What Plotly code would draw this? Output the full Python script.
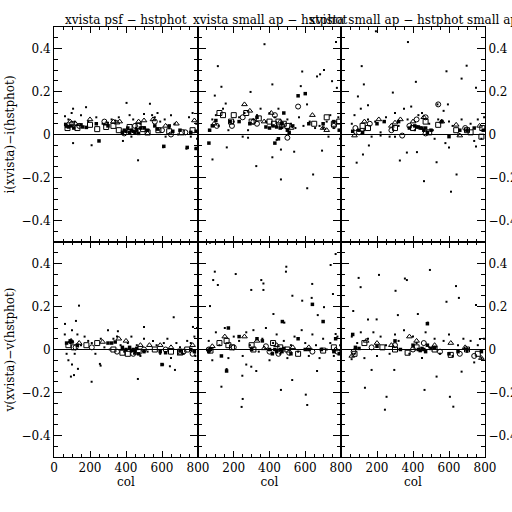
import plotly.graph_objects as go

# ---------------- data (col, magnitude difference) ----------------
PANEL_TITLES = ["xvista psf \u2212 hstphot", "xvista small ap \u2212 hstphot",
                "xvista small ap \u2212 hstphot small ap"]
ROW_YLABELS = ["i(xvista)\u2212i(hstphot)", "v(xvista)\u2212v(hstphot)"]
X_TICKS = [0, 200, 400, 600, 800]
Y_TICKS = [-0.4, -0.2, 0, 0.2, 0.4]

# panel 1: i, psf - hstphot
p1_dot = [(61,0.085),(80,0.07),(98,0.10),(106,0.12),(115,0.06),(130,0.045),(150,0.09),(178,0.127),
          (190,0.06),(209,-0.05),(250,-0.03),(235,0.08),(270,0.05),(300,0.055),(320,0.07),(340,0.065),
          (360,0.08),(383,-0.03),(403,0.147),(420,0.09),(440,0.07),(455,0.03),(467,-0.12),(480,0.05),
          (500,0.095),(533,0.143),(545,0.09),(560,0.08),(575,0.1),(590,0.06),(606,-0.059),(615,0.07),
          (640,0.03),(650,0.09),(670,0.05),(700,0.02),(736,-0.066),(750,0.08),(770,0.1),(786,-0.066),
          (790,0.05),(106,-0.04),(430,-0.01),(620,-0.01),(690,0.0),(760,-0.01),(795,-0.02)]
p1_fsq = [(65,0.047),(70,0.039),(80,0.035),(95,0.04),(110,0.03),(150,0.045),(160,0.035),(180,0.033),
          (250,-0.03),(235,0.05),(300,0.04),(380,0.01),(390,0.02),(400,0.015),(410,0.03),(420,0.01),
          (430,0.02),(440,0.015),(450,0.01),(460,0.02),(470,0.005),(480,0.03),(500,0.03),(520,0.02),
          (560,0.04),(575,0.025),(640,0.04),(660,0.015),(700,0.02),(760,0.01),(790,0.015),(740,-0.06),
          (790,-0.065),(610,-0.055)]
p1_sq = [(75,0.03),(130,0.03),(200,0.045),(240,0.025),(290,0.035),(330,0.04),(360,0.02),(420,0.035),
         (470,0.04),(495,0.025),(520,0.01),(580,0.02),(640,0.015),(710,0.01),(770,0.02)]
p1_tri = [(90,0.06),(120,0.05),(200,0.07),(290,0.05),(330,0.06),(350,0.055),(365,0.06),(470,0.06),
          (500,0.065),(550,0.07),(620,0.04),(680,0.05),(780,0.065),(520,0.005)]
p1_circ = [(100,0.05),(140,0.04),(280,0.06),(390,0.005),(450,0.04),(560,0.06),(600,0.02),(650,0.0),
           (730,0.01)]

# panel 2: i, small ap - hstphot
p2_dot = [(111,0.318),(131,0.222),(94,0.181),(294,0.198),(416,0.233),(575,0.225),(600,0.19),(666,0.27),
          (705,0.30),(750,0.248),(777,0.217),(583,0.293),(155,0.144),(326,-0.147),(416,-0.106),
          (464,-0.209),(611,-0.25),(644,-0.186),(81,-0.116),(538,-0.08),(464,-0.07),(694,-0.075),
          (161,-0.06),(372,0.42),(772,0.43),(683,0.28),
          (80,0.07),(100,0.09),(115,0.04),(140,0.12),(170,0.02),(200,0.06),(230,0.08),(260,0.1),
          (280,0.02),(310,0.07),(330,0.09),(350,0.12),(380,0.06),(400,0.1),(430,0.08),(450,0.12),
          (470,0.03),(500,0.07),(520,0.05),(545,0.03),(565,0.08),(590,0.04),(610,0.14),(625,0.06),
          (655,0.03),(680,0.04),(700,0.03),(720,0.06),(740,0.09),(760,0.03),(785,0.08),(795,-0.02),
          (730,-0.01),(250,-0.01),(280,-0.015),(440,-0.025)]
p2_fsq = [(65,0.02),(80,0.04),(100,0.065),(180,0.06),(230,0.06),(290,0.05),(330,0.08),(380,0.035),
          (400,0.03),(420,0.04),(440,0.035),(460,0.03),(470,0.05),(480,0.1),(500,0.02),(510,0.01),
          (530,0.04),(560,0.18),(600,0.19),(620,0.05),(700,0.05),(760,0.06),(790,0.02),(450,-0.02),
          (430,-0.04),(61,-0.04)]
p2_sq = [(120,0.1),(140,0.09),(185,0.06),(200,0.09),(270,0.1),(300,0.06),(340,0.075),(400,0.06),
         (425,0.05),(450,0.06),(480,0.05),(500,0.04),(650,0.05),(720,0.08),(760,0.05),(790,0.06)]
p2_tri = [(90,0.05),(260,0.14),(290,0.11),(370,0.06),(410,0.1),(460,0.06),(520,0.03),(640,0.09),
          (700,0.03),(720,0.02)]
p2_circ = [(105,0.04),(250,0.08),(310,0.06),(330,0.05),(430,0.09),(470,0.04),(500,-0.015),(560,0.13),
           (760,0.04),(190,0.04)]

# panel 3: i, small ap - hstphot small ap
p3_dot = [(115,0.318),(698,0.32),(670,0.26),(127,0.233),(416,0.245),(586,0.294),(750,0.218),(288,0.195),
          (94,0.177),(150,0.136),(536,0.14),(594,0.14),(87,-0.131),(122,-0.093),(327,-0.121),
          (422,-0.082),(461,-0.217),(531,-0.129),(642,-0.186),(611,-0.266),(366,-0.084),(155,-0.051),
          (750,-0.056),(194,0.48),(372,0.43),
          (60,0.05),(75,0.09),(90,0.02),(110,0.12),(130,0.02),(150,0.07),(170,-0.01),(190,0.06),
          (220,0.01),(250,0.08),(270,-0.01),(300,0.1),(320,0.04),(350,0.12),(370,0.07),(390,0.13),
          (410,0.02),(430,0.09),(450,0.1),(470,0.03),(490,0.05),(510,0.02),(540,0.07),(570,0.11),
          (600,0.06),(620,0.04),(650,0.0),(670,0.07),(700,0.02),(720,0.05),(740,-0.03),(760,0.07),
          (780,-0.02),(795,0.08),(220,-0.005),(300,-0.01),(580,-0.04),(600,-0.06),(520,-0.02)]
p3_fsq = [(100,0.02),(120,0.01),(200,0.05),(240,0.06),(320,0.06),(380,0.03),(410,0.04),(420,0.035),
          (430,0.035),(440,0.03),(450,0.03),(460,0.02),(470,0.03),(480,0.01),(500,0.02),(560,0.06),
          (600,-0.01),(660,0.02),(700,0.02),(740,0.03),(790,0.02),(65,0.015)]
p3_sq = [(120,0.04),(150,0.03),(300,0.03),(400,0.03),(470,0.06),(490,0.01),(540,0.045),(640,0.02),
         (700,0.02),(720,0.01),(785,0.03),(780,-0.01)]
p3_tri = [(75,-0.005),(130,0.06),(210,0.07),(300,0.055),(330,0.07),(400,0.06),(560,0.06),(640,0.045),
          (660,-0.005),(770,0.04),(460,0.08),(280,0.04)]
p3_circ = [(80,0.03),(100,0.01),(160,0.05),(280,0.02),(340,-0.005),(380,0.04),(470,0.08),(420,0.07),
           (540,0.14),(690,0.03),(470,0.005)]

# panel 4: v, psf - hstphot
p4_dot = [(139,0.204),(61,0.119),(122,0.133),(94,-0.126),(111,-0.119),(133,-0.09),(100,-0.07),
          (209,-0.15),(255,-0.067),(259,-0.075),(466,-0.137),(500,0.105),(665,0.15),(606,-0.07),
          (644,-0.078),(672,-0.095),(772,0.105),(300,0.09),(355,0.085),
          (60,0.07),(70,-0.02),(80,-0.05),(90,0.03),(100,0.09),(115,-0.02),(130,0.07),(150,0.02),
          (170,0.06),(190,0.04),(210,0.03),(230,-0.02),(260,0.05),(280,0.01),(310,0.0),(330,0.05),
          (350,0.06),(370,0.02),(390,-0.01),(410,0.03),(430,0.06),(445,-0.02),(460,0.02),(480,-0.03),
          (500,0.05),(520,-0.01),(550,0.04),(570,0.02),(590,-0.02),(610,0.03),(630,0.05),(650,-0.04),
          (680,0.03),(700,0.01),(720,-0.02),(740,0.04),(760,0.03),(780,0.06),(795,0.1),(785,-0.03)]
p4_fsq = [(70,0.03),(90,0.04),(100,0.035),(130,0.02),(300,0.03),(320,0.03),(340,0.035),(380,0.01),
          (400,0.0),(420,0.01),(430,-0.005),(440,0.0),(450,-0.01),(460,0.005),(470,-0.02),(500,-0.01),
          (590,-0.01),(620,-0.015),(700,-0.005),(760,0.0),(780,-0.01),(600,-0.07)]
p4_sq = [(80,0.02),(110,0.01),(180,0.02),(240,0.03),(330,0.0),(380,-0.015),(410,-0.02),(470,-0.01),
         (560,0.0),(650,-0.01),(700,-0.01),(740,0.0)]
p4_tri = [(95,0.04),(140,0.03),(270,0.035),(360,0.05),(400,0.04),(480,0.02),(530,0.02),(590,0.02),
          (650,0.01),(700,-0.02),(770,0.02)]
p4_circ = [(120,0.01),(210,0.01),(350,-0.01),(440,-0.02),(500,0.0),(620,0.0),(720,-0.01),(770,-0.02)]

# panel 5: v, small ap - hstphot
p5_dot = [(67,0.497),(94,0.362),(85,0.323),(111,0.30),(211,0.351),(354,0.323),(366,0.307),(366,0.277),
          (298,0.277),(494,0.385),(492,0.362),(639,0.305),(528,0.25),(583,0.227),(636,0.24),(670,0.16),
          (705,0.197),(770,0.444),(742,0.393),(755,0.258),(422,0.165),(483,0.125),(770,0.072),(67,0.202),
          (160,-0.091),(131,-0.173),(248,-0.122),(250,-0.23),(244,-0.267),(603,-0.21),(611,-0.258),
          (527,-0.142),(666,-0.10),(464,-0.188),(298,-0.08),(326,-0.10),(270,-0.07),
          (60,0.04),(80,-0.05),(100,0.08),(120,0.02),(150,0.1),(170,-0.04),(200,0.06),(230,0.04),
          (250,-0.03),(270,0.08),(290,0.02),(310,0.09),(340,-0.01),(360,0.05),(380,0.1),(400,-0.05),
          (420,0.03),(440,0.07),(460,-0.02),(480,0.04),(500,-0.04),(520,0.02),(540,0.06),(560,-0.01),
          (580,0.09),(600,0.03),(620,-0.03),(640,0.07),(660,0.02),(680,-0.04),(700,0.05),(720,0.0),
          (740,0.03),(760,-0.03),(780,0.06),(795,0.02)]
p5_fsq = [(60,-0.01),(70,0.0),(131,-0.03),(170,0.1),(230,0.06),(300,0.0),(330,0.05),(360,0.04),
          (400,0.0),(416,-0.02),(430,0.0),(440,-0.01),(460,0.0),(470,-0.01),(480,0.005),(520,-0.02),
          (560,0.05),(600,0.0),(620,0.0),(690,0.0),(760,-0.01),(770,0.05),(790,-0.02),(160,-0.1),
          (472,0.13),(640,0.21),(700,0.13)]
p5_sq = [(70,-0.005),(120,0.03),(160,0.04),(170,0.02),(190,0.01),(300,0.02),(310,0.0),(420,0.03),
         (460,0.01),(500,0.0),(560,-0.02),(700,-0.005),(760,0.01)]
p5_tri = [(80,0.015),(150,0.06),(260,0.06),(330,0.04),(370,0.005),(440,0.02),(530,0.01),(620,0.01),
          (770,0.0)]
p5_circ = [(60,0.0),(200,0.01),(380,0.015),(400,-0.01),(450,-0.02),(510,-0.015),(640,-0.01),(780,-0.01)]

# panel 6: v, small ap - hstphot small ap
p6_dot = [(494,0.37),(366,0.323),(355,0.33),(639,0.295),(98,0.333),(109,0.29),(211,0.347),(303,0.273),
          (586,0.222),(655,0.24),(750,0.207),(427,0.165),(316,0.16),(482,0.125),(150,0.14),(198,0.14),
          (68,0.179),(772,0.049),(170,-0.095),(133,-0.178),(253,-0.22),(244,-0.28),(605,-0.22),
          (624,-0.266),(531,-0.126),(464,-0.188),(670,-0.103),(296,-0.095),(59,-0.045),
          (60,0.06),(75,-0.02),(90,0.03),(110,0.08),(130,-0.04),(150,0.05),(180,0.08),(200,-0.03),
          (220,0.06),(250,0.02),(270,-0.02),(300,0.07),(320,0.04),(350,0.09),(380,-0.02),(400,0.06),
          (420,0.03),(450,-0.04),(470,0.08),(490,0.01),(520,0.05),(550,-0.02),(570,0.04),(600,0.07),
          (620,-0.03),(650,0.02),(680,0.05),(700,-0.01),(720,0.04),(740,-0.06),(760,0.02),(780,-0.04),
          (795,0.05)]
p6_fsq = [(65,0.07),(80,0.01),(100,0.005),(200,0.015),(300,0.04),(330,0.0),(400,0.02),(430,0.0),
          (440,-0.005),(450,0.005),(460,0.0),(470,-0.01),(480,0.02),(500,0.005),(520,0.01),(600,-0.02),
          (650,-0.01),(700,0.0),(780,-0.01),(480,0.12)]
p6_sq = [(75,-0.02),(130,0.03),(230,0.01),(300,0.0),(370,-0.015),(420,0.01),(520,0.0),(610,-0.025),
         (700,0.0),(760,-0.02)]
p6_tri = [(60,-0.03),(140,0.04),(200,0.03),(280,0.02),(380,0.06),(420,0.04),(520,0.02),(610,0.03),
          (690,0.01),(780,-0.04)]
p6_circ = [(70,-0.01),(170,0.01),(300,0.02),(400,0.0),(460,0.03),(550,-0.01),(660,-0.02),(740,-0.03)]

PANELS = [
    (p1_dot, p1_fsq, p1_sq, p1_tri, p1_circ),
    (p2_dot, p2_fsq, p2_sq, p2_tri, p2_circ),
    (p3_dot, p3_fsq, p3_sq, p3_tri, p3_circ),
    (p4_dot, p4_fsq, p4_sq, p4_tri, p4_circ),
    (p5_dot, p5_fsq, p5_sq, p5_tri, p5_circ),
    (p6_dot, p6_fsq, p6_sq, p6_tri, p6_circ),
]

# ---------------- styling / layout ----------------
W = H = 512
FONT = "DejaVu Serif"
X_EDGES = [54, 198, 341, 485]
Y_EDGES = [27, 242, 457]

MARKERS = [
    dict(symbol="square", size=2, color="black", line=dict(width=0)),
    dict(symbol="square", size=3.5, color="black", line=dict(width=0)),
    dict(symbol="square-open", size=5, color="black", line=dict(width=1, color="black")),
    dict(symbol="triangle-up-open", size=5, color="black", line=dict(width=1, color="black")),
    dict(symbol="circle-open", size=5, color="black", line=dict(width=1, color="black")),
]

fig = go.Figure()
layout = dict(width=W, height=H, margin=dict(l=0, r=0, t=0, b=0),
              paper_bgcolor="white", plot_bgcolor="white", showlegend=False,
              font=dict(family=FONT, size=12, color="black"))
shapes = []
annotations = []

for i, groups in enumerate(PANELS):
    n = i + 1
    row, col = divmod(i, 3)
    xs = "" if n == 1 else str(n)
    for pts, mk in zip(groups, MARKERS):
        fig.add_trace(go.Scatter(x=[p[0] for p in pts], y=[p[1] for p in pts], mode="markers",
                                 marker=mk, xaxis="x" + xs, yaxis="y" + xs, hoverinfo="skip"))
    xdom = [X_EDGES[col] / W, X_EDGES[col + 1] / W]
    ydom = [1 - Y_EDGES[row + 1] / H, 1 - Y_EDGES[row] / H]
    xticks = X_TICKS if col == 0 else X_TICKS[1:]
    layout["xaxis" + xs] = dict(
        domain=xdom, anchor="y" + xs, range=[0, 800], showgrid=False, zeroline=False,
        showline=True, linecolor="black", linewidth=1, mirror="ticks",
        ticks="inside", ticklen=6, tickcolor="black", tickvals=xticks,
        showticklabels=(row == 1), tickfont=dict(family=FONT, size=12),
        minor=dict(ticks="inside", dtick=50, tick0=0, ticklen=3, tickcolor="black", showgrid=False),
        title=dict(text="col" if row == 1 else "", font=dict(family=FONT, size=12), standoff=2),
        automargin=False)
    yax = dict(
        domain=ydom, anchor="x" + xs, range=[-0.5, 0.5], showgrid=False, zeroline=False,
        showline=True, linecolor="black", linewidth=1, mirror="ticks",
        ticks="inside", ticklen=8, tickcolor="black", tickvals=Y_TICKS,
        ticktext=["\u22120.4", "\u22120.2", "0", "0.2", "0.4"],
        showticklabels=(col != 1), side="right" if col == 2 else "left",
        tickfont=dict(family=FONT, size=12),
        minor=dict(ticks="inside", dtick=0.05, tick0=0, ticklen=4, tickcolor="black", showgrid=False),
        automargin=False)
    if col == 0:
        yax["title"] = dict(text=ROW_YLABELS[row], font=dict(family=FONT, size=12), standoff=4)
    layout["yaxis" + xs] = yax
    shapes.append(dict(type="line", xref="x" + xs + " domain", yref="y" + xs,
                       x0=0, x1=1, y0=0, y1=0, line=dict(color="black", width=1)))
    if row == 0:
        annotations.append(dict(text=PANEL_TITLES[col], xref="paper", yref="paper",
                                x=(xdom[0] + xdom[1]) / 2, y=1 - 20 / H, xanchor="center",
                                yanchor="middle", showarrow=False,
                                font=dict(family=FONT, size=12, color="black")))

layout["shapes"] = shapes
layout["annotations"] = annotations
fig.update_layout(**layout)
fig.write_html("out.html", config={"displayModeBar": False},
               post_script="document.body.style.margin='0';document.body.style.overflow='hidden';")
